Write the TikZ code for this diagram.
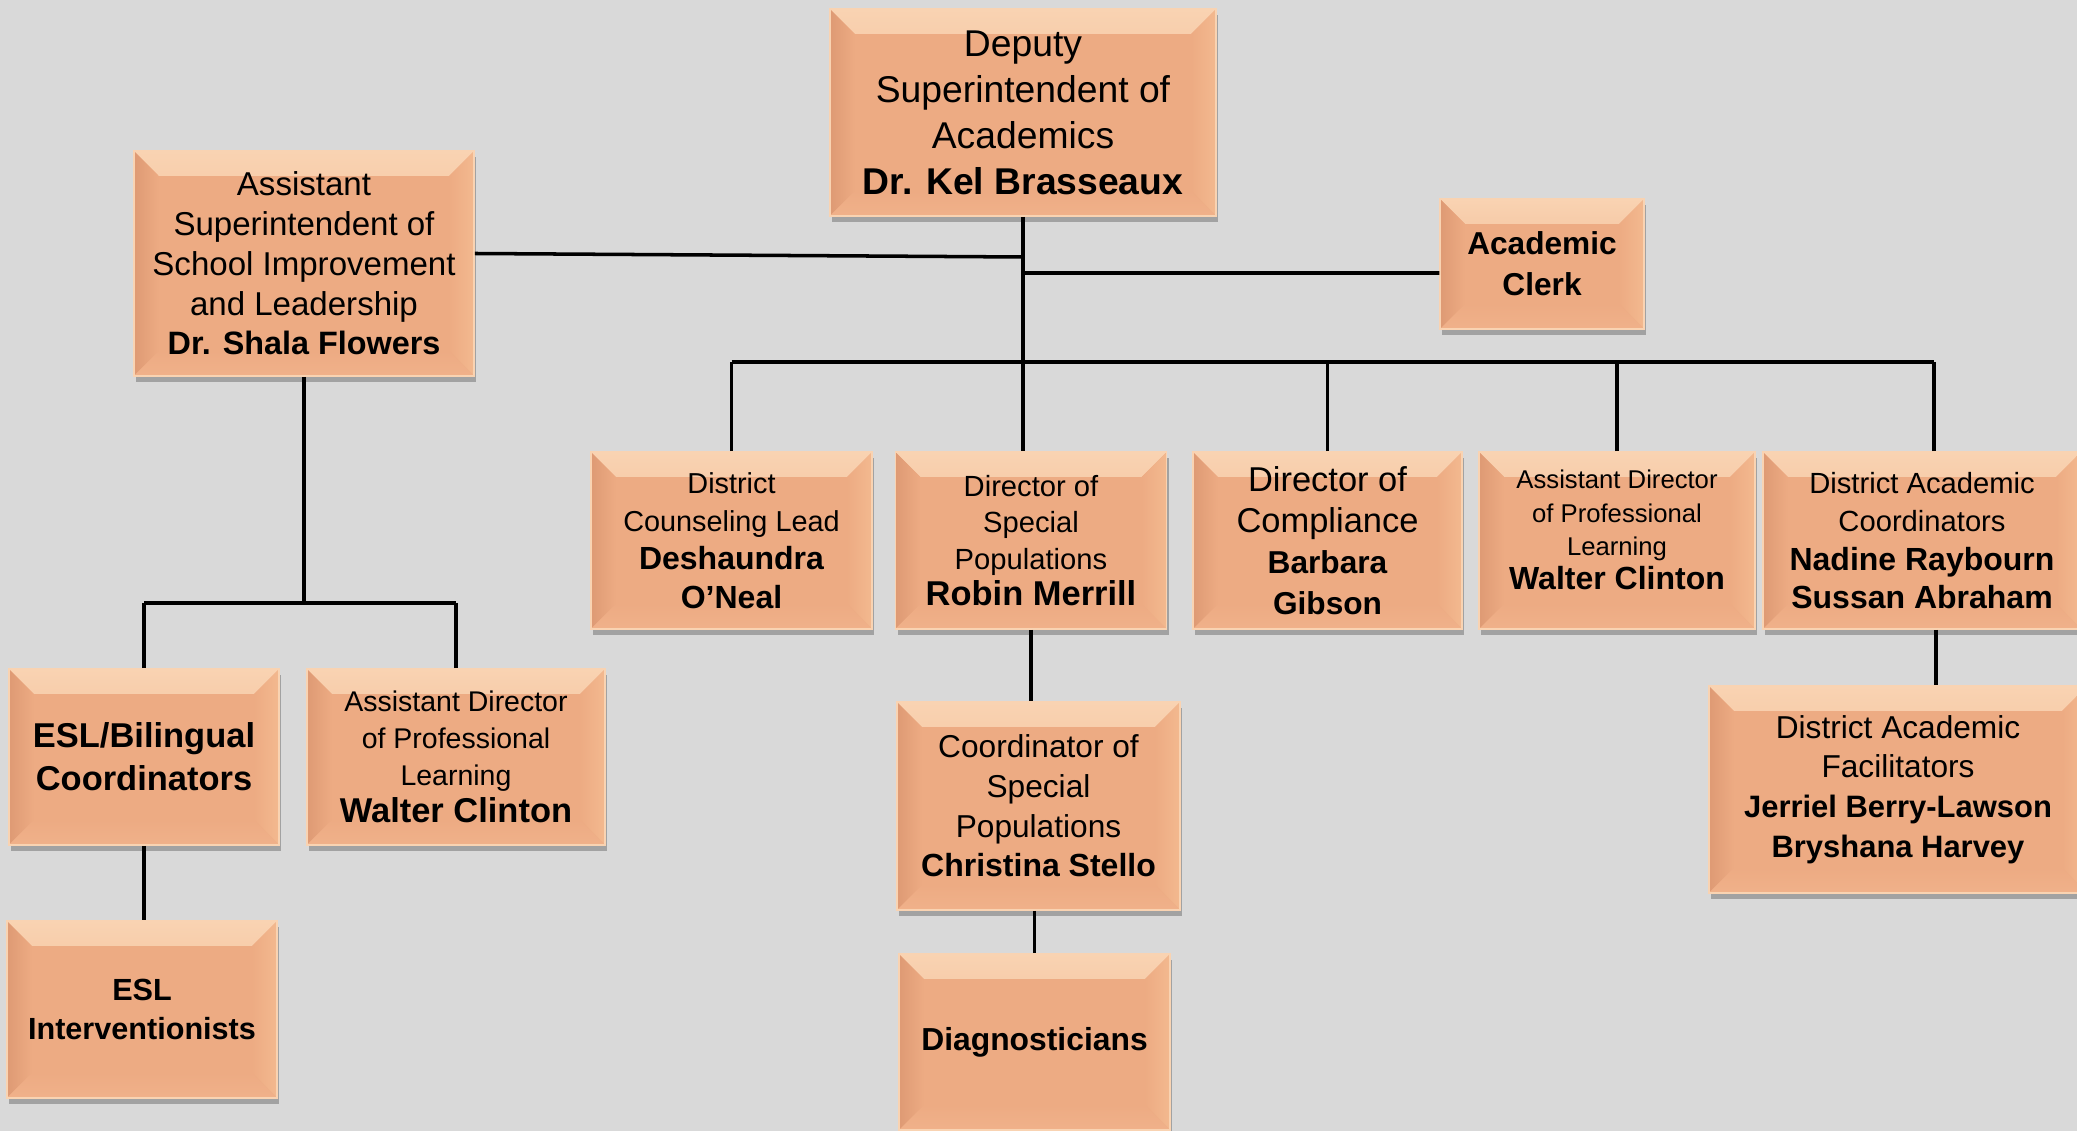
\documentclass[tikz,border=0pt]{standalone}
\usepackage{fontspec}
\setmainfont{Liberation Sans}
\usetikzlibrary{shadows}
\definecolor{bggray}{HTML}{D9D9D9}
\definecolor{boxface}{HTML}{EDAB83}
\definecolor{boxtop}{HTML}{F9D3B2}
\definecolor{boxleft}{HTML}{DE9A74}
\definecolor{boxright}{HTML}{F3B98F}
\definecolor{boxbot}{HTML}{F0B18A}
\newcommand{\boxfont}[2]{\fontsize{#1}{#2}\selectfont}
\newcommand{\who}[2]{{\fontsize{#1}{#1}\selectfont\bfseries #2}}
\newcommand{\bevel}{%
\shade[top color=boxtop, bottom color=boxface] (path picture bounding box.north west) -- (path picture bounding box.north east) -- ([xshift=-2.5mm,yshift=-2.5mm]path picture bounding box.north east) -- ([xshift=2.5mm,yshift=-2.5mm]path picture bounding box.north west) -- cycle;
\shade[left color=boxleft, right color=boxface] (path picture bounding box.north west) -- ([xshift=2.5mm,yshift=-2.5mm]path picture bounding box.north west) -- ([xshift=2.5mm,yshift=2.5mm]path picture bounding box.south west) -- (path picture bounding box.south west) -- cycle;
\shade[left color=boxface, right color=boxright] (path picture bounding box.north east) -- ([xshift=-2.5mm,yshift=-2.5mm]path picture bounding box.north east) -- ([xshift=-2.5mm,yshift=2.5mm]path picture bounding box.south east) -- (path picture bounding box.south east) -- cycle;
\shade[top color=boxface, bottom color=boxbot] (path picture bounding box.south west) -- ([xshift=2.5mm,yshift=2.5mm]path picture bounding box.south west) -- ([xshift=-2.5mm,yshift=2.5mm]path picture bounding box.south east) -- (path picture bounding box.south east) -- cycle;}
\tikzset{
  box/.style={rectangle, inner sep=0pt, fill=boxface, draw=boxtop, line width=0.4pt, align=center,
    drop shadow={shadow xshift=0.6pt, shadow yshift=-1.6pt, fill=black, opacity=0.25},
    path picture={\bevel}},
  link/.style={line width=1pt}
}
\begin{document}
\begin{tikzpicture}[x=0.01cm, y=-0.01cm]
\fill[bggray] (0,0) rectangle (2077,1131);
\useasboundingbox (0,0) rectangle (2077,1131);
\node[box, minimum width=3.86cm, minimum height=2.07cm, font=\boxfont{10.6}{13.1}] (dep) at (1023,112.5) {Deputy\\Superintendent of\\Academics\\\textbf{Dr. Kel Brasseaux}};
\node[box, minimum width=3.40cm, minimum height=2.25cm, font=\boxfont{9.4}{11.3}] (asup) at (304,263.5) {Assistant\\Superintendent of\\School Improvement\\and Leadership\\\who{9.2}{Dr. Shala Flowers}};
\node[box, minimum width=2.04cm, minimum height=1.30cm, font=\boxfont{9}{11.7}\bfseries] (clerk) at (1542,264) {Academic\\Clerk};
\node[box, minimum width=2.81cm, minimum height=1.77cm, font=\boxfont{8.2}{10.9}] (couns) at (731.5,540.5) {District\\Counseling Lead\\\who{9.1}{Deshaundra}\\\who{9.1}{O’Neal}};
\node[box, minimum width=2.71cm, minimum height=1.77cm, font=\boxfont{8.3}{10.4}] (spec) at (1031,540.5) {Director of\\Special\\Populations\\\who{9.8}{Robin Merrill}};
\node[box, minimum width=2.69cm, minimum height=1.77cm, font=\boxfont{9.8}{11.7}] (comp) at (1327.5,540.5) {Director of\\Compliance\\\who{9.0}{Barbara}\\\who{9.0}{Gibson}};
\node[box, minimum width=2.76cm, minimum height=1.77cm, font=\boxfont{7.3}{9.6}] (apl2) at (1617,540.5) {Assistant Director\\of Professional\\Learning\\\who{9.1}{Walter Clinton}\\[-3.4pt]};
\node[box, minimum width=3.18cm, minimum height=1.77cm, font=\boxfont{8.3}{10.9}] (dac) at (1922,540.5) {District Academic\\Coordinators\\\who{9.1}{Nadine Raybourn}\\\who{9.1}{Sussan Abraham}};
\node[box, minimum width=3.78cm, minimum height=2.07cm, font=\boxfont{9.0}{11.3}] (daf) at (1898,789.5) {District Academic\\Facilitators\\\who{8.8}{Jerriel Berry-Lawson}\\\who{8.8}{Bryshana Harvey}};
\node[box, minimum width=2.70cm, minimum height=1.76cm, font=\boxfont{9.8}{12.2}\bfseries] (esl) at (144,757) {ESL/Bilingual\\Coordinators};
\node[box, minimum width=2.98cm, minimum height=1.76cm, font=\boxfont{8.1}{10.5}] (apl1) at (456,757) {Assistant Director\\of Professional\\Learning\\\who{9.8}{Walter Clinton}};
\node[box, minimum width=2.70cm, minimum height=1.77cm, font=\boxfont{8.7}{11.3}\bfseries] (eslint) at (142,1009.5) {ESL\\Interventionists};
\node[box, minimum width=2.83cm, minimum height=2.08cm, font=\boxfont{9.0}{11.3}] (coord) at (1038.5,806) {Coordinator of\\Special\\Populations\\\who{9.1}{Christina Stello}};
\node[box, minimum width=2.71cm, minimum height=1.76cm, font=\boxfont{9.05}{11.3}\bfseries] (diag) at (1034.5,1042) {Diagnosticians};
\coordinate (j1) at (1023,257);
\coordinate (j2) at (1023,273);
\coordinate (bus) at (1023,362);
\coordinate (lbus) at (304,603);
\draw[link] (dep.south) -- (dep.south |- spec.north);
\draw[link] ([yshift=0.1cm]asup.east) -- (j1);
\draw[link] ([yshift=-0.09cm]clerk.west) -- (j2);
\draw[link] (couns.north |- bus) -- ([xshift=0.12cm]dac.north |- bus);
\foreach \n in {couns,comp,apl2}
  \draw[link] (\n.north) -- (\n.north |- bus);
\draw[link] ([xshift=0.12cm]dac.north) -- ([xshift=0.12cm]dac.north |- bus);
\draw[link] (asup.south) -- (lbus);
\draw[link] (esl.north |- lbus) -- (apl1.north |- lbus);
\draw[link] (esl.north) -- (esl.north |- lbus);
\draw[link] (apl1.north) -- (apl1.north |- lbus);
\draw[link] (esl.south) -- (esl.south |- eslint.north);
\draw[link] (spec.south) -- (spec.south |- coord.north);
\draw[link] (diag.north |- coord.south) -- (diag.north);
\draw[link] ([xshift=0.14cm]dac.south) -- ([xshift=0.14cm]dac.south |- daf.north);
\end{tikzpicture}
\end{document}
